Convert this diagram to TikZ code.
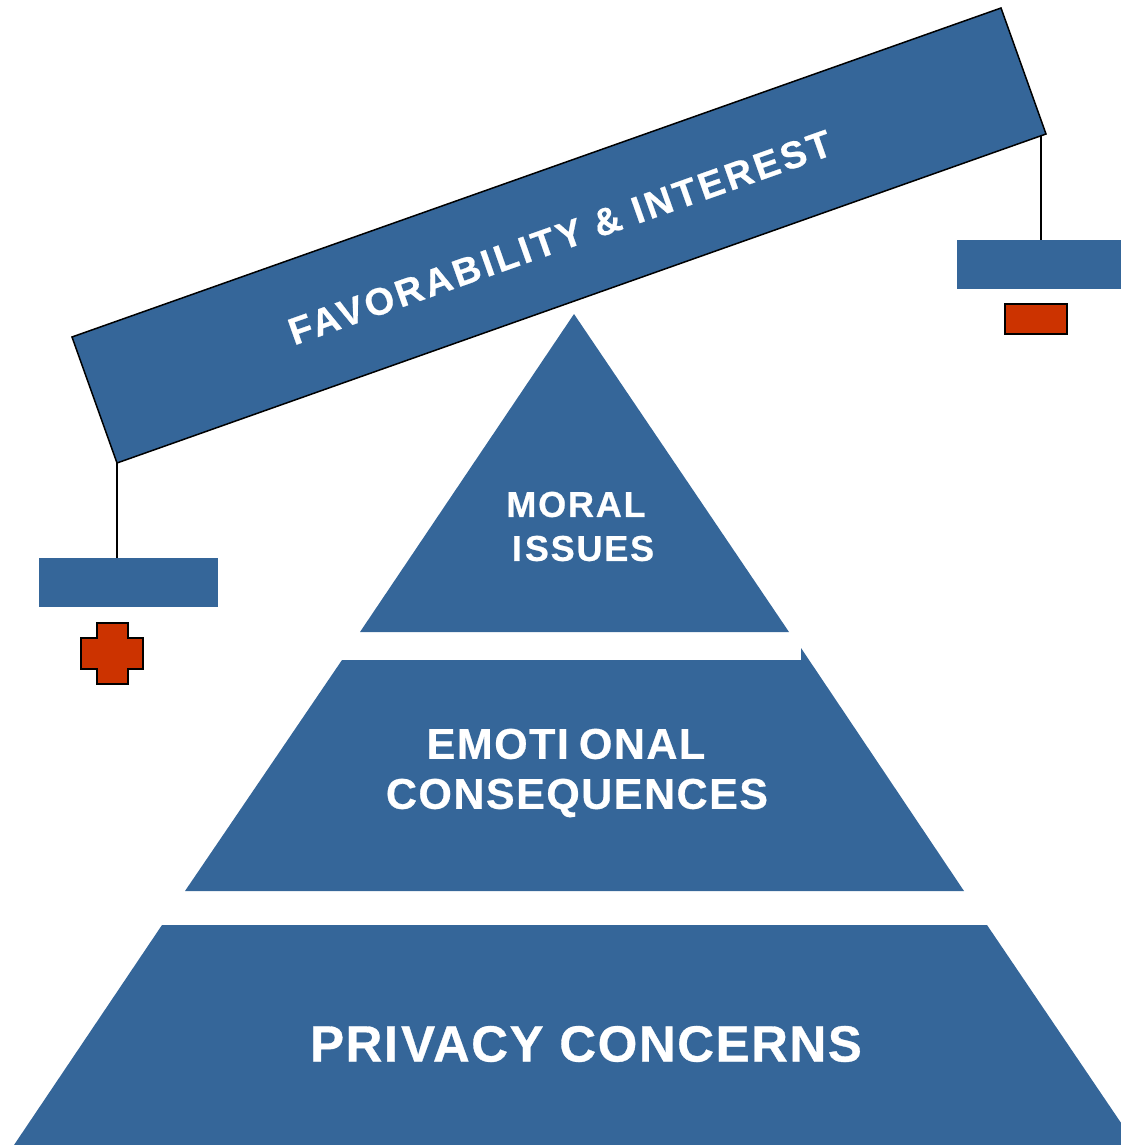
\documentclass[tikz,border=0pt]{standalone}
\usepackage{fontspec}
\setmainfont{Liberation Sans}
\definecolor{pyrblue}{RGB}{53,102,153}
\definecolor{signred}{RGB}{204,51,0}
\begin{document}
\begin{tikzpicture}[x=1pt,y=-1pt,
  layer/.style={fill=pyrblue},
  lbl/.style={text=white,align=center,inner sep=0pt,outer sep=0pt},
  panel/.style={fill=pyrblue,draw=none,inner sep=0pt,outer sep=0pt,anchor=north west},
  sign/.style={fill=signred,draw=black,line width=1.5pt},
  hang/.style={draw=black,line width=1.5pt}]
\useasboundingbox (0,0) rectangle (1120,1145);
% pyramid
\fill[layer] (574,314) -- (789,632) -- (360,632) -- cycle;
\fill[layer] (342,660) -- (801,660) -- (801,648) -- (964,891) -- (185,891) -- cycle;
\fill[layer] (162,925) -- (987,925) -- (1136,1145) -- (14,1145) -- cycle;
\node[lbl,font={\fontsize{36}{44}\selectfont\bfseries\addfontfeatures{LetterSpace=5,FakeBold=0.6}}] (moral) at (576,526.5) {MORAL\\\kern14pt I\kern3pt SSUES};
\node[lbl,font={\fontsize{43}{50}\selectfont\bfseries\addfontfeatures{LetterSpace=3.5,FakeBold=0.6}}] (emo) at (577,773) {EMOTI\kern10pt ONAL\kern22pt\\CONSEQUENCES};
\node[lbl,font={\fontsize{51}{60}\selectfont\bfseries\addfontfeatures{LetterSpace=3,FakeBold=0.6}}] (priv) at (586,1044) {PRI\kern3pt VACY CONCERNS};
% beam
\coordinate (b1) at (72,337);
\coordinate (b2) at (1001,8);
\coordinate (b3) at (1046,134);
\coordinate (b4) at (117,463);
\coordinate (rh) at (1041,135);
\filldraw[fill=pyrblue,draw=black,line width=1.5pt] (b1) -- (b2) -- (b3) -- (b4) -- cycle;
\node[lbl,rotate=19.5,font={\fontsize{38}{42}\selectfont\bfseries\addfontfeatures{LetterSpace=8,FakeBold=0.6}}] (beamtxt) at (560,237.5) {FAVORABILITY \& INTEREST};
% hanging panels
\node[panel,minimum width=179pt,minimum height=49pt] (lbox) at (39,558) {};
\node[panel,minimum width=170pt,minimum height=49pt] (rbox) at (957,240) {};
\draw[hang] (b4) -- (b4 |- lbox.north);
\draw[hang] (rh) -- (rh |- rbox.north);
% signs
\filldraw[sign] (1005,304) rectangle (1067,334);
\filldraw[sign] (97,623) -- (128,623) -- (128,638) -- (143,638) -- (143,669) -- (128,669) -- (128,684) -- (97,684) -- (97,669) -- (81,669) -- (81,638) -- (97,638) -- cycle;
\end{tikzpicture}
\end{document}
